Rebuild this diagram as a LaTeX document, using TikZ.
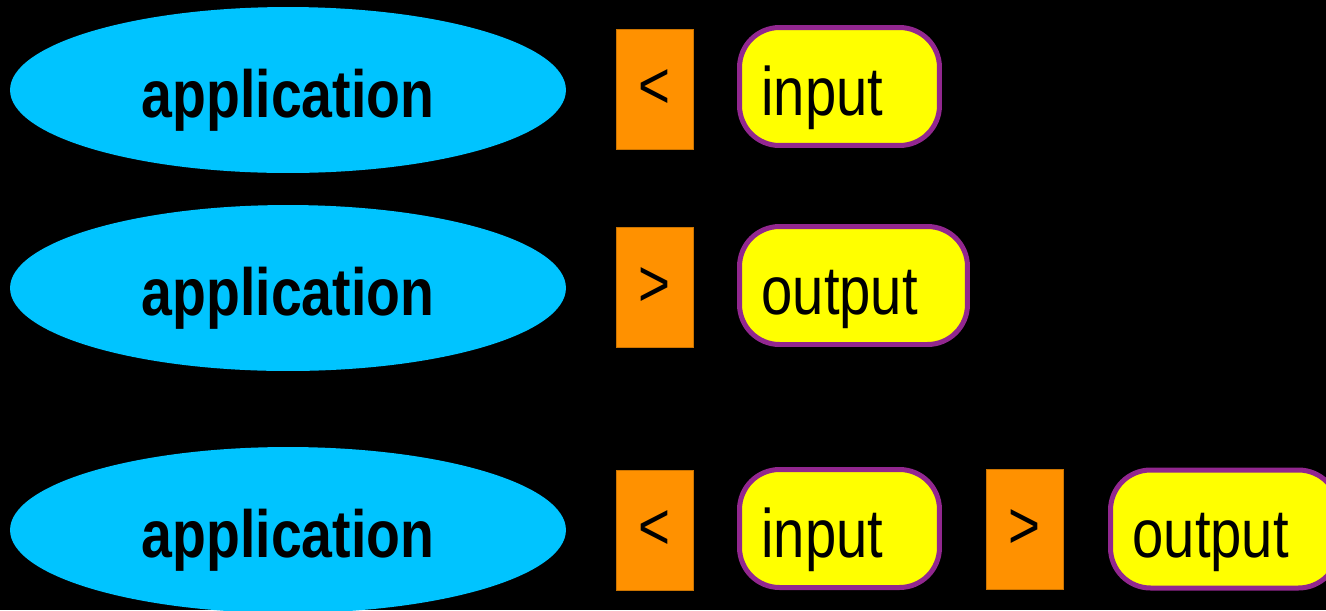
\documentclass[tikz,border=0pt]{standalone}
\usepackage{fontspec}
\setmainfont{Liberation Sans}
\newfontfamily\appfont[FakeStretch=0.83]{Liberation Sans Bold}
\newfontfamily\tagfont[FakeStretch=0.82]{Liberation Sans}
\usetikzlibrary{shapes.geometric}
\definecolor{appcyan}{HTML}{00C4FF}
\definecolor{redirorange}{HTML}{FF9100}
\definecolor{streamyellow}{HTML}{FFFF00}
\definecolor{streampurple}{HTML}{92278F}
\tikzset{
  app/.style={ellipse, fill=appcyan, inner sep=0pt,
    minimum width=11.12cm, minimum height=3.32cm,
    text height=1.08cm, text depth=0cm,
    font=\appfont\fontsize{38pt}{40pt}\selectfont},
  redir/.style={rectangle, fill=redirorange, draw=redirorange!80!black, line width=0.4pt,
    inner sep=0pt, minimum width=1.54cm, minimum height=2.4cm,
    font=\tagfont\fontsize{38pt}{40pt}\selectfont},
  stream/.style={rectangle, rounded corners=0.8cm, fill=streamyellow,
    draw=streampurple, line width=0.1cm, inner ysep=0pt, inner xsep=0.44cm,
    minimum height=2.36cm, align=left,
    text height=1.14cm, text depth=0cm,
    font=\tagfont\fontsize{39pt}{41pt}\selectfont},
}
\begin{document}
\begin{tikzpicture}[x=0.02cm,y=-0.02cm]
  \fill[black] (0,0) rectangle (1326,610);
  \useasboundingbox (0,0) rectangle (1326,610);

  % input redirection
  \node[app] (app1) at (288,90) {application};
  \node[redir] (lt1) at (654.5,89) {<};
  \node[stream, text width=3.12cm] (in1) at (839.5,86.5) {input};

  % output redirection
  \node[app] (app2) at (288,288) {application};
  \node[redir] (gt2) at (654.5,287) {>};
  \node[stream, text width=3.68cm] (out2) at (853.5,285.5) {output};

  % both redirections together
  \node[app] (app3) at (288,530) {application};
  \node[redir] (lt3) at (654.5,530) {<};
  \node[stream, text width=3.12cm] (in3) at (839.5,528.5) {input};
  \node[redir] (gt3) at (1024.5,529) {>};
  \node[stream, text width=3.68cm] (out3) at (1224.5,529) {output};
\end{tikzpicture}
\end{document}
